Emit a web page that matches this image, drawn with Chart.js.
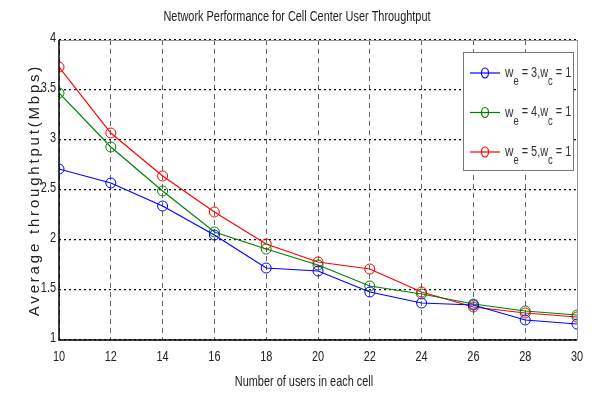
<!DOCTYPE html>
<html>
<head>
<meta charset="utf-8">
<script src="https://cdn.jsdelivr.net/npm/chart.js@4"></script>
<style>
  html, body { margin: 0; padding: 0; background: #fff; }
  #wrap { width: 594px; height: 397px; }
</style>
</head>
<body>
<div id="wrap"><canvas id="c" width="594" height="397"></canvas></div>
<script>
// данные с графика
const users = [10, 12, 14, 16, 18, 20, 22, 24, 26, 28, 30];
const we3 = [2.71, 2.57, 2.34, 2.05, 1.72, 1.69, 1.48, 1.37, 1.35, 1.20, 1.16];
const we4 = [3.47, 2.93, 2.49, 2.08, 1.91, 1.75, 1.54, 1.46, 1.36, 1.29, 1.25];
const we5 = [3.73, 3.07, 2.64, 2.28, 1.96, 1.78, 1.71, 1.48, 1.33, 1.27, 1.23];
const seriesNames = [['3', '1'], ['4', '1'], ['5', '1']];
const yTicks = [1, 1.5, 2, 2.5, 3, 3.5, 4];

const font = "'Liberation Sans', Arial, sans-serif";
const squeeze = 0.78;

// узкий текст (как Arial Narrow)
function narrow(ctx, text, x, y, size, align) {
  ctx.save();
  ctx.font = size + 'px ' + font;
  const w = ctx.measureText(text).width * squeeze;
  let x0 = x;
  if (align === 'center') x0 = x - w / 2;
  if (align === 'right') x0 = x - w;
  ctx.translate(x0, y);
  ctx.scale(squeeze, 1);
  ctx.textAlign = 'left';
  ctx.textBaseline = 'middle';
  ctx.fillText(text, 0, 0);
  ctx.restore();
  return w;
}

function pts(vals) {
  return users.map((u, i) => ({ x: u, y: vals[i] }));
}

function ds(vals, color) {
  return {
    data: pts(vals),
    borderColor: color,
    backgroundColor: 'rgba(0,0,0,0)',
    borderWidth: 1.2,
    pointRadius: 5,
    pointBorderWidth: 1,
    pointStyle: 'circle',
    tension: 0,
  };
}

// подписи, легенда и рамка
const extras = {
  id: 'extras',
  afterDraw(chart) {
    const ctx = chart.ctx;
    const a = chart.chartArea;
    const sx = chart.scales.x, sy = chart.scales.y;
    ctx.save();
    // рамка сверху и справа
    ctx.strokeStyle = '#999';
    ctx.lineWidth = 1;
    ctx.beginPath();
    ctx.moveTo(a.left, a.top + 0.5);
    ctx.lineTo(a.right + 0.5, a.top + 0.5);
    ctx.lineTo(a.right + 0.5, a.bottom);
    ctx.stroke();
    ctx.strokeStyle = '#000';
    ctx.lineWidth = 1.5;
    ctx.beginPath();
    ctx.moveTo(a.left, a.top);
    ctx.lineTo(a.left, a.bottom);
    ctx.lineTo(a.right, a.bottom);
    ctx.stroke();

    ctx.fillStyle = '#222';
    // подписи делений
    users.forEach(v => narrow(ctx, String(v), sx.getPixelForValue(v), a.bottom + 17, 14, 'center'));
    yTicks.forEach(v => narrow(ctx, String(v), a.left - 3, sy.getPixelForValue(v) - 2, 14, 'right'));

    // заголовок
    narrow(ctx, 'Network Performance for Cell Center User Throughtput', 297, 17, 14, 'center');
    narrow(ctx, 'Number of users in each cell', 304, 382, 14, 'center');

    ctx.save();
    ctx.translate(35, 190);
    ctx.rotate(-Math.PI / 2);
    ctx.font = '15px ' + font;
    ctx.letterSpacing = '2.8px';
    ctx.textAlign = 'center';
    ctx.textBaseline = 'middle';
    ctx.fillText('Average throughtput(Mbps)', 0, 0);
    ctx.restore();

    // легенда
    const lx = 463, ly = 52, lw = 110, lh = 118;
    ctx.fillStyle = '#fff';
    ctx.fillRect(lx, ly, lw, lh);
    ctx.strokeStyle = '#777';
    ctx.lineWidth = 1;
    ctx.strokeRect(lx + 0.5, ly + 0.5, lw, lh);
    chart.data.datasets.forEach((d, i) => {
      const y = 73 + i * 39.5;
      ctx.strokeStyle = d.borderColor;
      ctx.lineWidth = 1.2;
      ctx.beginPath();
      ctx.moveTo(470, y);
      ctx.lineTo(500, y);
      ctx.stroke();
      ctx.beginPath();
      ctx.ellipse(485, y, 3.5, 5, 0, 0, Math.PI * 2);
      ctx.stroke();
      ctx.fillStyle = '#333';
      let x = 505;
      const parts = [
        ['w', 15, 0], ['e', 12, 9], [' = ' + seriesNames[i][0] + ',w', 14, 0],
        ['c', 12, 9], [' = ' + seriesNames[i][1], 14, 0]
      ];
      parts.forEach(p => {
        x += narrow(ctx, p[0], x, y + p[2], p[1], 'left');
      });
    });
    ctx.restore();
  }
};

new Chart(document.getElementById('c').getContext('2d'), {
  type: 'line',
  data: {
    datasets: [ds(we3, '#0000ff'), ds(we4, '#008000'), ds(we5, '#ff0000')],
  },
  options: {
    responsive: false,
    animation: false,
    layout: { padding: { top: 40, right: 17, left: 0, bottom: 0 } },
    plugins: { legend: { display: false }, tooltip: { enabled: false } },
    scales: {
      x: {
        type: 'linear',
        min: 10,
        max: 30,
        afterBuildTicks: (s) => { s.ticks = users.map(v => ({ value: v })); },
        afterFit: (s) => { s.height = 57; },
        ticks: { display: false },
        grid: { color: '#666', drawTicks: false, lineWidth: 1 },
        border: { display: false, dash: [5, 4] },
      },
      y: {
        min: 1,
        max: 4,
        afterBuildTicks: (s) => { s.ticks = yTicks.map(v => ({ value: v })); },
        afterFit: (s) => { s.width = 59; },
        ticks: { display: false },
        grid: { color: '#000', drawTicks: false, lineWidth: 1.2 },
        border: { display: false, dash: [2, 3] },
      },
    },
  },
  plugins: [extras],
});
</script>
</body>
</html>
